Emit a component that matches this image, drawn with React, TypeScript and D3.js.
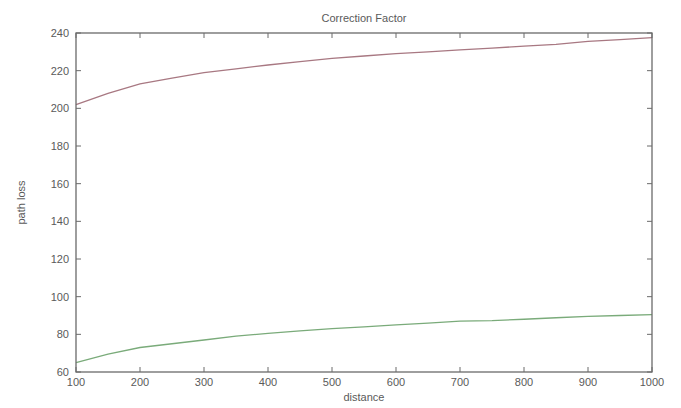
import React from "react";
import * as d3 from "d3";

const distances = [100, 150, 200, 250, 300, 350, 400, 450, 500, 550, 600, 650, 700, 750, 800, 850, 900, 950, 1000];
const redValues = [202, 208, 213, 216, 219, 221, 223, 224.8, 226.5, 227.8, 229, 230, 231, 232, 233, 234, 235.5, 236.5, 237.5];
const greenValues = [65, 69.5, 73, 75, 77, 79, 80.5, 81.8, 83, 84, 85, 86, 87, 87.3, 88, 88.8, 89.5, 90, 90.5];
const xTicks = [100, 200, 300, 400, 500, 600, 700, 800, 900, 1000];
const yTicks = [60, 80, 100, 120, 140, 160, 180, 200, 220, 240];

export default function App() {
  const W = 681, H = 408;
  const L = 76, R = 652, T = 33, B = 372;
  const x = d3.scaleLinear().domain([100, 1000]).range([L, R]);
  const y = d3.scaleLinear().domain([60, 240]).range([B, T]);
  const line = (vals: number[]) =>
    d3.line<number>().x((_, i) => x(distances[i])).y((v) => y(v))(vals) || "";
  const font = "'Liberation Sans', Arial, sans-serif";
  const txt = "#5a5a5a";
  const ax = "#6a6a6a";
  return (
    <svg width={W} height={H} style={{ position: "absolute", left: 0, top: 0, background: "#fff" }} fontFamily={font}>
      <rect x={0} y={0} width={W} height={H} fill="#fff" />
      <path d={line(redValues)} fill="none" stroke="#a87882" strokeWidth={1.3} />
      <path d={line(greenValues)} fill="none" stroke="#7aab7a" strokeWidth={1.3} />
      <rect x={L} y={T} width={R - L} height={B - T} fill="none" stroke={ax} strokeWidth={1.3} />
      {xTicks.map((t) => (
        <g key={"x" + t}>
          <line x1={x(t)} x2={x(t)} y1={B} y2={B - 5} stroke={ax} />
          <line x1={x(t)} x2={x(t)} y1={T} y2={T + 5} stroke={ax} />
          <text x={x(t)} y={B + 14} fontSize={11} fill={txt} textAnchor="middle">{t}</text>
        </g>
      ))}
      {yTicks.map((t) => (
        <g key={"y" + t}>
          <line x1={L} x2={L + 5} y1={y(t)} y2={y(t)} stroke={ax} />
          <line x1={R} x2={R - 5} y1={y(t)} y2={y(t)} stroke={ax} />
          <text x={L - 7} y={y(t) + 4} fontSize={11} fill={txt} textAnchor="end">{t}</text>
        </g>
      ))}
      <text x={(L + R) / 2} y={22} fontSize={11} fill={txt} textAnchor="middle">Correction Factor</text>
      <text x={(L + R) / 2} y={401} fontSize={11} fill={txt} textAnchor="middle">distance</text>
      <text transform={`translate(25,${(T + B) / 2}) rotate(-90)`} fontSize={11} fill={txt} textAnchor="middle">path loss</text>
    </svg>
  );
}
